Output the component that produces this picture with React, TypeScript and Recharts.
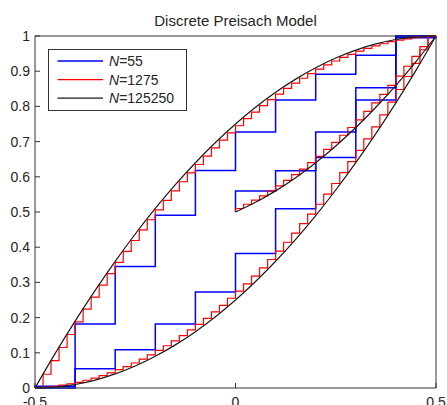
import React from 'react';
import { LineChart, Line, XAxis, YAxis, Legend } from 'recharts';

const TITLE = 'Discrete Preisach Model';
const FONT = '"Liberation Sans", Arial, sans-serif';

const X_TICKS = [-0.5, 0, 0.5];
const Y_TICKS = [0, 0.1, 0.2, 0.3, 0.4, 0.5, 0.6, 0.7, 0.8, 0.9, 1];

const SERIES_NAMES = ['55', '1275', '125250'];
const SERIES_COLORS = ['#0000ff', '#ff0000', '#1a1a1a'];

// N=55 : switching fields every 0.1
const BLUE_STEPS = [-0.5, -0.4, -0.3, -0.2, -0.1, 0, 0.1, 0.2, 0.3, 0.4];
const BLUE_LOWER = [0, 0.005, 0.055, 0.109, 0.182, 0.273, 0.382, 0.509, 0.655, 0.818, 1, 1];
const BLUE_UPPER = [0, 0.182, 0.345, 0.491, 0.618, 0.727, 0.818, 0.891, 0.945, 0.995, 1];
const BLUE_INNER = [0.5, 0.56, 0.617, 0.727, 0.853, 1, 1];

// N=1275 : switching fields every 0.02
const RED_STEPS = [
  -0.5, -0.48, -0.46, -0.44, -0.42, -0.4, -0.38, -0.36, -0.34, -0.32,
  -0.3, -0.28, -0.26, -0.24, -0.22, -0.2, -0.18, -0.16, -0.14, -0.12,
  -0.1, -0.08, -0.06, -0.04, -0.02, 0, 0.02, 0.04, 0.06, 0.08,
  0.1, 0.12, 0.14, 0.16, 0.18, 0.2, 0.22, 0.24, 0.26, 0.28,
  0.3, 0.32, 0.34, 0.36, 0.38, 0.4, 0.42, 0.44, 0.46, 0.48,
];
const RED_LOWER = [
  0,
  0.001, 0.002, 0.005, 0.008, 0.012, 0.016, 0.022, 0.028, 0.035, 0.043,
  0.052, 0.061, 0.071, 0.082, 0.094, 0.107, 0.12, 0.134, 0.149, 0.165,
  0.181, 0.198, 0.216, 0.235, 0.255, 0.275, 0.296, 0.318, 0.341, 0.365,
  0.389, 0.414, 0.44, 0.467, 0.494, 0.522, 0.551, 0.581, 0.612, 0.643,
  0.675, 0.708, 0.742, 0.776, 0.812, 0.848, 0.885, 0.922, 0.961, 1,
  1,
];
const RED_UPPER = [
  0,
  0.039, 0.078, 0.115, 0.152, 0.188, 0.224, 0.258, 0.292, 0.325, 0.357,
  0.388, 0.419, 0.449, 0.478, 0.506, 0.533, 0.56, 0.586, 0.611, 0.635,
  0.659, 0.682, 0.704, 0.725, 0.745, 0.765, 0.784, 0.802, 0.819, 0.835,
  0.851, 0.866, 0.88, 0.893, 0.906, 0.918, 0.929, 0.939, 0.948, 0.957,
  0.965, 0.972, 0.978, 0.984, 0.988, 0.992, 0.995, 0.998, 0.999,
  1,
];
const RED_INNER = [
  0.5,
  0.51, 0.522, 0.534, 0.546, 0.56, 0.574, 0.59, 0.606, 0.622, 0.64,
  0.658, 0.678, 0.698, 0.718, 0.74, 0.762, 0.786, 0.81, 0.834, 0.86,
  0.886, 0.914, 0.942, 0.97, 1,
  1,
];

// N=125250 : practically the continuous curves
const BLACK_X = [
  -0.5, -0.45, -0.4, -0.35, -0.3, -0.25, -0.2, -0.15, -0.1, -0.05, 0,
  0.05, 0.1, 0.15, 0.2, 0.25, 0.3, 0.35, 0.4, 0.45, 0.5,
];
const BLACK_LOWER = [
  0, 0.0025, 0.01, 0.0225, 0.04, 0.0625, 0.09, 0.1225, 0.16, 0.2025, 0.25,
  0.3025, 0.36, 0.4225, 0.49, 0.5625, 0.64, 0.7225, 0.81, 0.9025, 1,
];
const BLACK_UPPER = [
  0, 0.0975, 0.19, 0.2775, 0.36, 0.4375, 0.51, 0.5775, 0.64, 0.6975, 0.75,
  0.7975, 0.84, 0.8775, 0.91, 0.9375, 0.96, 0.9775, 0.99, 0.9975, 1,
];
const BLACK_INNER = [0.5, 0.5275, 0.56, 0.5975, 0.64, 0.6875, 0.74, 0.7975, 0.86, 0.9275, 1];

const pts = (xs: number[], ys: number[]) => xs.map((x, i) => ({ x, y: ys[i] }));

const blueLower = pts([-0.5, ...BLUE_STEPS, 0.5], BLUE_LOWER);
const blueUpper = pts([...BLUE_STEPS, 0.5], BLUE_UPPER);
const blueInner = pts([0, ...BLUE_STEPS.slice(5), 0.5], BLUE_INNER);

const redLower = pts([-0.5, ...RED_STEPS, 0.5], RED_LOWER);
const redUpper = pts([...RED_STEPS, 0.5], RED_UPPER);
const redInner = pts([0, ...RED_STEPS.slice(25), 0.5], RED_INNER);

const blackLower = pts(BLACK_X, BLACK_LOWER);
const blackUpper = pts(BLACK_X, BLACK_UPPER);
const blackInner = pts(BLACK_X.slice(10), BLACK_INNER);

const tickStyle = { fontSize: 14, fill: '#262626', fontFamily: FONT };
const axisStroke = { stroke: '#333', strokeWidth: 1 };

const renderLegend = () => (
  <svg width={140} height={63} style={{ display: 'block' }}>
    <rect x={0.5} y={0.5} width={138} height={61} fill="#fff" stroke="#333" />
    {SERIES_NAMES.map((n, i) => (
      <g key={n}>
        <line x1={9.5} x2={55} y1={12 + i * 18.6} y2={12 + i * 18.6} stroke={SERIES_COLORS[i]} strokeWidth={1.3} />
        <text x={61} y={12 + i * 18.6} dominantBaseline="central" fontSize={14} fontFamily={FONT} fill="#262626">
          <tspan fontStyle="italic">N</tspan>={n}
        </text>
      </g>
    ))}
  </svg>
);

const stair = (data: { x: number; y: number }[], color: string, width: number, name: string, legend: boolean, type: any = 'stepAfter') => (
  <Line
    key={name}
    data={data}
    dataKey="y"
    name={name}
    type={type}
    xAxisId="b"
    yAxisId="l"
    stroke={color}
    strokeWidth={width}
    dot={false}
    activeDot={false}
    legendType={legend ? 'line' : 'none'}
    isAnimationActive={false}
  />
);

const App = () => (
  <div style={{ position: 'absolute', left: 0, top: 0, width: 447, height: 405, background: '#fff' }}>
    <div
      style={{
        position: 'absolute',
        left: 35,
        top: 13,
        width: 401,
        textAlign: 'center',
        fontFamily: FONT,
        fontSize: 15,
        lineHeight: '15px',
        color: '#262626',
      }}
    >
      {TITLE}
    </div>
    <LineChart width={447} height={405} margin={{ top: 35, right: 10, bottom: 0, left: 0 }}>
      <XAxis
        xAxisId="b"
        dataKey="x"
        type="number"
        domain={[-0.5, 0.5]}
        ticks={X_TICKS}
        height={17}
        tickSize={-5}
        tickMargin={14}
        tick={tickStyle}
        axisLine={axisStroke}
        tickLine={axisStroke}
      />
      <XAxis
        xAxisId="t"
        orientation="top"
        type="number"
        domain={[-0.5, 0.5]}
        allowDataOverflow
        ticks={X_TICKS}
        height={1}
        tickSize={-5}
        tick={false}
        axisLine={axisStroke}
        tickLine={axisStroke}
      />
      <YAxis
        yAxisId="l"
        type="number"
        domain={[0, 1]}
        ticks={Y_TICKS}
        width={35}
        tickSize={-5}
        tickMargin={10}
        tick={tickStyle}
        axisLine={axisStroke}
        tickLine={axisStroke}
      />
      <YAxis
        yAxisId="r"
        orientation="right"
        type="number"
        domain={[0, 1]}
        allowDataOverflow
        ticks={Y_TICKS}
        width={1}
        tickSize={-5}
        tick={false}
        axisLine={axisStroke}
        tickLine={axisStroke}
      />
      <Legend
        layout="vertical"
        align="center"
        verticalAlign="middle"
        content={renderLegend}
        wrapperStyle={{ left: 48, top: 49, width: 140, height: 63 }}
      />
      {stair(blueLower, SERIES_COLORS[0], 1.5, 'N=55', true)}
      {stair(blueUpper, SERIES_COLORS[0], 1.5, 'blue-up', false)}
      {stair(blueInner, SERIES_COLORS[0], 1.5, 'blue-in', false)}
      {stair(redLower, SERIES_COLORS[1], 1.2, 'N=1275', true)}
      {stair(redUpper, SERIES_COLORS[1], 1.2, 'red-up', false)}
      {stair(redInner, SERIES_COLORS[1], 1.2, 'red-in', false)}
      {stair(blackLower, SERIES_COLORS[2], 1.2, 'N=125250', true, 'monotone')}
      {stair(blackUpper, SERIES_COLORS[2], 1.2, 'black-up', false, 'monotone')}
      {stair(blackInner, SERIES_COLORS[2], 1.2, 'black-in', false, 'monotone')}
    </LineChart>
  </div>
);

export default App;
